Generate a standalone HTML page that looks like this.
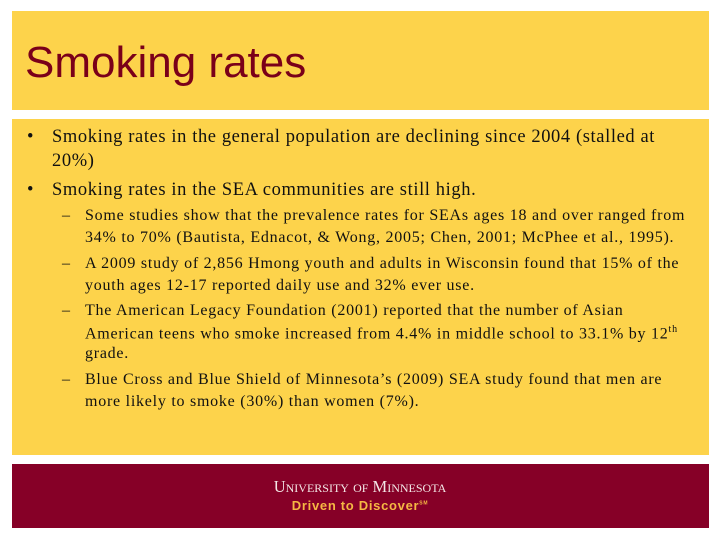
<!DOCTYPE html>
<html><head><meta charset="utf-8"><style>
body{margin:0;width:720px;height:540px;background:#fff;position:relative;overflow:hidden;font-family:"Liberation Serif",serif;}
.box{position:absolute;left:12px;width:697px;background:#fdd34b;}
.t{position:absolute;white-space:nowrap;color:#111;}
.l1{font-size:18.5px;letter-spacing:0.6px;}
.l2{font-size:16px;letter-spacing:0.75px;}
</style></head><body>
<div class="box" style="top:11px;height:99px;"></div>
<div class="t" style="left:25px;top:38px;font-family:'Liberation Sans',sans-serif;font-size:44px;color:#7a0019;">Smoking rates</div>
<div class="box" style="top:119px;height:336px;"></div>
<div>
<div class="t l1" style="left:27px;top:127px;">•</div>
<div class="t l1" style="left:52px;top:127px;">Smoking rates in the general population are declining since 2004 (stalled at</div>
<div class="t l1" style="left:52px;top:151px;">20%)</div>
<div class="t l1" style="left:27px;top:180px;">•</div>
<div class="t l1" style="left:52px;top:180px;">Smoking rates in the SEA communities are still high.</div>
<div class="t l2" style="left:62px;top:207px;">–</div>
<div class="t l2" style="left:85px;top:207px;">Some studies show that the prevalence rates for SEAs ages 18 and over ranged from</div>
<div class="t l2" style="left:85px;top:229px;">34% to 70% (Bautista, Ednacot, &amp; Wong, 2005; Chen, 2001; McPhee et al., 1995).</div>
<div class="t l2" style="left:62px;top:255px;">–</div>
<div class="t l2" style="left:85px;top:255px;">A 2009 study of 2,856 Hmong youth and adults in Wisconsin found that 15% of the</div>
<div class="t l2" style="left:85px;top:277px;">youth ages 12-17 reported daily use and 32% ever use.</div>
<div class="t l2" style="left:62px;top:302px;">–</div>
<div class="t l2" style="left:85px;top:302px;">The American Legacy Foundation (2001) reported that the number of Asian</div>
<div class="t l2" style="left:85px;top:324px;">American teens who smoke increased from 4.4% in middle school to 33.1% by 12<sup style="font-size:10px;">th</sup></div>
<div class="t l2" style="left:85px;top:345px;">grade.</div>
<div class="t l2" style="left:62px;top:371px;">–</div>
<div class="t l2" style="left:85px;top:371px;">Blue Cross and Blue Shield of Minnesota’s (2009) SEA study found that men are</div>
<div class="t l2" style="left:85px;top:393px;">more likely to smoke (30%) than women (7%).</div>
</div>
<div style="position:absolute;left:12px;top:464px;width:697px;height:64px;background:#860027;"></div>
<div class="t" style="left:0;width:720px;text-align:center;top:477px;color:#f3e6e6;font-size:16.5px;font-variant:small-caps;">University of Minnesota</div>
<div class="t" style="left:0;width:720px;text-align:center;top:498px;color:#f5b843;font-family:'Liberation Sans',sans-serif;font-weight:bold;font-size:13px;letter-spacing:0.7px;">Driven to Discover<sup style="font-size:5px;">SM</sup></div>
</body></html>
